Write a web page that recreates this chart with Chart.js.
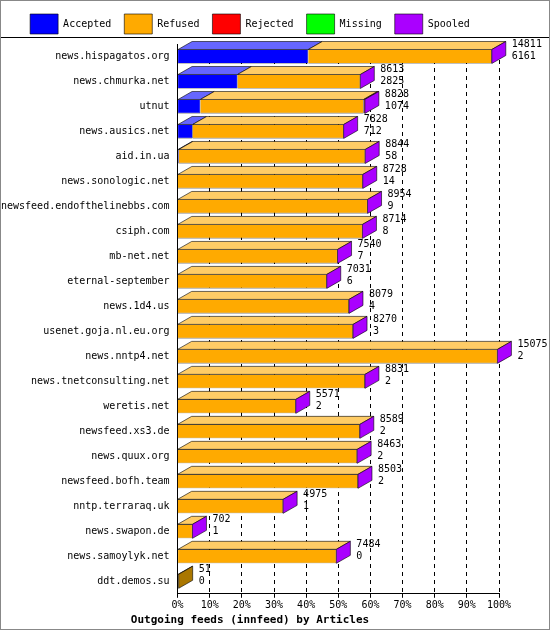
<!DOCTYPE html>
<html><head><meta charset="utf-8">
<script src="https://cdn.jsdelivr.net/npm/chart.js@4"></script>
<style>
body{margin:0;background:#fff}
#wrap{width:548px;height:628px;border:1px solid #888;position:relative}
</style></head>
<body><div id="wrap"><canvas id="c" width="548" height="628"></canvas></div>
<script>
const FONT = '"DejaVu Sans Mono", monospace'
const feeds = ['news.hispagatos.org','news.chmurka.net','utnut','news.ausics.net','aid.in.ua','news.sonologic.net','newsfeed.endofthelinebbs.com','csiph.com','mb-net.net','eternal-september','news.1d4.us','usenet.goja.nl.eu.org','news.nntp4.net','news.tnetconsulting.net','weretis.net','newsfeed.xs3.de','news.quux.org','newsfeed.bofh.team','nntp.terraraq.uk','news.swapon.de','news.samoylyk.net','ddt.demos.su']
const offered = [14811,8613,8828,7828,8844,8728,8954,8714,7540,7031,8079,8270,15075,8831,5571,8589,8463,8503,4975,702,7484,51]
const accepted = [6161,2825,1074,712,58,14,9,8,7,6,4,3,2,2,2,2,2,2,1,1,0,0]
const rejected = [0,0,60,0,0,0,0,0,0,0,0,0,0,0,0,0,0,0,0,0,0,0]

const scaleMax = 15150
const pct = v => v / scaleMax * 100
const accPct = accepted.map(pct)
const rejPct = rejected.map(pct)
const refPct = offered.map((o, i) => pct(o - accepted[i] - rejected[i]))
const zeros = feeds.map(() => 0)

const colors = { Accepted: '#0000ff', Refused: '#ffaa00', Rejected: '#ff0000', Missing: '#00ff00', Spooled: '#aa00ff' }
const tops = { Accepted: '#6666ff', Refused: '#ffcc66', Rejected: '#ff6666', Missing: '#66ff66', Spooled: '#cc66ff' }
const DX = 14, DY = -8

const bar3d = {
  id: 'bar3d',
  afterDatasetsDraw(chart) {
    const ctx = chart.ctx
    const n = feeds.length
    for (let i = 0; i < n; i++) {
      let last = null
      chart.data.datasets.forEach((ds, di) => {
        const el = chart.getDatasetMeta(di).data[i]
        if (!el) return
        const x0 = el.base, x1 = el.x
        const h = el.height, yt = el.y - h / 2
        if (x1 - x0 < 0.5) return
        ctx.fillStyle = tops[ds.label]
        ctx.strokeStyle = '#000'
        ctx.lineWidth = 0.6
        ctx.beginPath()
        ctx.moveTo(x0, yt); ctx.lineTo(x0 + DX, yt + DY); ctx.lineTo(x1 + DX, yt + DY); ctx.lineTo(x1, yt); ctx.closePath()
        ctx.fill(); ctx.stroke()
        last = { x: x1, yt, h }
      })
      if (!last) {
        const el = chart.getDatasetMeta(0).data[i]
        last = { x: el.base, yt: el.y - el.height / 2, h: el.height }
      }
      ctx.fillStyle = offered[i] < 100 ? '#aa7700' : colors.Spooled
      ctx.beginPath()
      ctx.moveTo(last.x, last.yt); ctx.lineTo(last.x + DX, last.yt + DY); ctx.lineTo(last.x + DX, last.yt + DY + last.h); ctx.lineTo(last.x, last.yt + last.h); ctx.closePath()
      ctx.fill(); ctx.stroke()
      ctx.fillStyle = '#000'
      ctx.font = '10px ' + FONT
      ctx.textAlign = 'left'
      ctx.textBaseline = 'alphabetic'
      ctx.fillText(String(offered[i]), last.x + DX + 6, last.yt + DY + 6)
      ctx.fillText(String(accepted[i]), last.x + DX + 6, last.yt + DY + 18)
    }
    ctx.strokeStyle = '#000'
    ctx.lineWidth = 1
    ctx.beginPath(); ctx.moveTo(0, 36.5); ctx.lineTo(chart.width, 36.5); ctx.stroke()
  }
}

new Chart(document.getElementById('c'), {
  type: 'bar',
  data: {
    labels: feeds,
    datasets: [
      { label: 'Accepted', data: accPct, backgroundColor: colors.Accepted },
      { label: 'Refused', data: refPct, backgroundColor: colors.Refused },
      { label: 'Rejected', data: rejPct, backgroundColor: colors.Rejected },
      { label: 'Missing', data: zeros, backgroundColor: colors.Missing },
      { label: 'Spooled', data: zeros, backgroundColor: colors.Spooled }
    ].map(d => Object.assign(d, { borderColor: '#000', borderWidth: 0.6, barPercentage: 0.56, categoryPercentage: 1 }))
  },
  plugins: [bar3d],
  options: {
    responsive: false,
    animation: false,
    indexAxis: 'y',
    layout: { padding: { left: 0, right: 50, top: 0, bottom: 2 } },
    plugins: {
      legend: {
        position: 'top',
        labels: { font: { family: FONT, size: 10 }, color: '#000', boxWidth: 28, boxHeight: 20, padding: 13 }
      },
      title: {
        display: true, position: 'bottom', text: 'Outgoing feeds (innfeed) by Articles',
        font: { family: FONT, size: 11, weight: 'bold' }, color: '#000', padding: { top: 0, bottom: 0 }
      },
      tooltip: { enabled: false }
    },
    scales: {
      x: {
        stacked: true, min: 0, max: 100,
        ticks: { stepSize: 10, callback: v => v + '%', color: '#000', font: { family: FONT, size: 10 }, maxRotation: 0, padding: 2 },
        grid: { color: '#000', drawTicks: true, tickLength: 4 },
        border: { dash: [4, 4], color: '#000' }
      },
      y: {
        stacked: true,
        ticks: { color: '#000', font: { family: FONT, size: 10 }, autoSkip: false, padding: 0 },
        grid: { display: false },
        border: { color: '#000' }
      }
    }
  }
})
</script></body></html>
